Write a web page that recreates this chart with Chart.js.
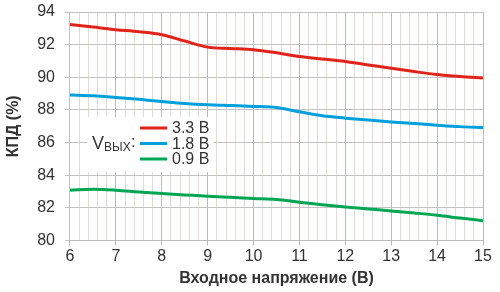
<!DOCTYPE html>
<html>
<head>
<meta charset="utf-8">
<script src="https://cdn.jsdelivr.net/npm/chart.js@4/dist/chart.umd.min.js"></script>
<style>
  html, body { margin: 0; padding: 0; background: #fff; }
  #wrap { width: 500px; height: 292px; position: relative; }
</style>
</head>
<body>
<div id="wrap"><canvas id="effChart"></canvas></div>
<script>
// входное напряжение, В
const vin = [6, 6.5, 7, 7.5, 8, 8.5, 9, 9.5, 10, 10.5, 11, 11.5, 12, 12.5, 13, 13.5, 14, 14.5, 15];
// КПД, %
const eff33 = [93.24, 93.08, 92.92, 92.79, 92.61, 92.22, 91.85, 91.77, 91.69, 91.5, 91.27, 91.12, 90.97, 90.76, 90.55, 90.35, 90.17, 90.05, 89.96];
const eff18 = [88.92, 88.87, 88.77, 88.65, 88.52, 88.4, 88.32, 88.27, 88.22, 88.15, 87.89, 87.64, 87.5, 87.38, 87.27, 87.17, 87.07, 86.98, 86.92];
const eff09 = [83.09, 83.15, 83.09, 82.98, 82.88, 82.8, 82.72, 82.65, 82.58, 82.52, 82.35, 82.2, 82.06, 81.94, 81.82, 81.69, 81.55, 81.38, 81.22];
const seriesLabels = ['3.3 В', '1.8 В', '0.9 В'];
const seriesColors = ['#e2231a', '#00a0dc', '#00a651'];

const FONT = '"Liberation Sans", Arial, sans-serif';

function toPoints(ys) {
  return vin.map((x, i) => ({ x: x, y: ys[i] }));
}

// белая рамка с подписью Vвых внутри области графика
const legendBox = {
  id: 'legendBox',
  beforeDatasetsDraw(chart) {
    const ctx = chart.ctx;
    ctx.save();
    ctx.fillStyle = '#fff';
    ctx.fillRect(87, 117, 126, 55);
    ctx.fillStyle = '#333';
    ctx.textBaseline = 'middle';
    ctx.font = '18px ' + FONT;
    ctx.fillText('V', 92, 144);
    ctx.font = '12px ' + FONT;
    ctx.fillText('ВЫХ', 104, 148);
    ctx.font = '16px ' + FONT;
    ctx.fillText(':', 131, 143);
    chart.data.datasets.forEach((ds, i) => {
      const y = 128 + i * 15.5;
      ctx.strokeStyle = ds.borderColor;
      ctx.lineWidth = 3;
      ctx.beginPath();
      ctx.moveTo(140, y);
      ctx.lineTo(167, y);
      ctx.stroke();
      ctx.font = '16px ' + FONT;
      ctx.fillText(ds.label, 172, y + 1);
    });
    ctx.restore();
  }
};

new Chart(document.getElementById('effChart'), {
  type: 'line',
  data: {
    datasets: [
      { label: seriesLabels[0], data: toPoints(eff33), borderColor: seriesColors[0] },
      { label: seriesLabels[1], data: toPoints(eff18), borderColor: seriesColors[1] },
      { label: seriesLabels[2], data: toPoints(eff09), borderColor: seriesColors[2] }
    ]
  },
  options: {
    responsive: true,
    maintainAspectRatio: false,
    animation: false,
    layout: { autoPadding: false, padding: { top: 12, right: 17, left: 0, bottom: 4 } },
    elements: {
      point: { radius: 0 },
      line: { borderWidth: 3, tension: 0.4, cubicInterpolationMode: 'monotone' }
    },
    plugins: {
      legend: { display: false },
      tooltip: { enabled: false }
    },
    scales: {
      xMinor: {
        type: 'linear',
        position: 'bottom',
        min: 6, max: 15,
        ticks: { display: false, stepSize: 0.2 },
        grid: { color: '#e4dada', drawTicks: false, lineWidth: 1 },
        border: { display: false }
      },
      x: {
        type: 'linear',
        min: 6, max: 15,
        ticks: { stepSize: 1, color: '#333', font: { family: FONT, size: 16 }, padding: 1 },
        grid: { color: '#bbbbbb', tickLength: 5, lineWidth: 1 },
        border: { color: '#bbbbbb' },
        title: { display: true, text: 'Входное напряжение (В)', color: '#333',
                 font: { family: FONT, size: 16, weight: 'bold' }, padding: { top: 2, bottom: 0 } }
      },
      y: {
        min: 80, max: 94,
        ticks: {
          stepSize: 1, color: '#333', font: { family: FONT, size: 16 }, padding: 10,
          callback: v => (v % 2 === 0 ? v : '')
        },
        grid: { color: '#c2c2c2', tickLength: 5, lineWidth: 1 },
        border: { color: '#c2c2c2' },
        title: { display: true, text: 'КПД (%)', color: '#333',
                 font: { family: FONT, size: 16, weight: 'bold' }, padding: { bottom: 4 } },
        afterFit: scale => { scale.paddingTop = 0; }
      }
    }
  },
  plugins: [legendBox]
});
</script>
</body>
</html>
